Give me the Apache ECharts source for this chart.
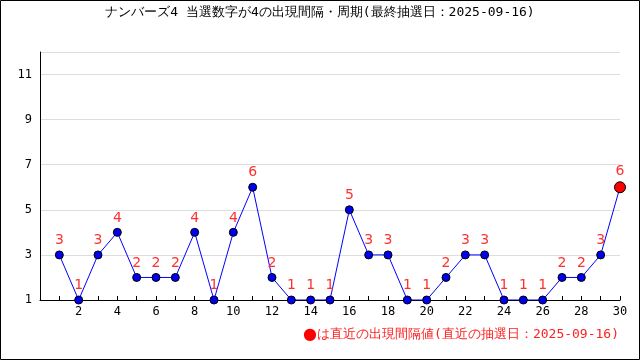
<!DOCTYPE html>
<html><head><meta charset="utf-8">
<script src="https://cdn.jsdelivr.net/npm/echarts@6/dist/echarts.min.js"></script>
<style>
html,body{margin:0;padding:0;background:#fff;}
#c{width:640px;height:360px;}
</style></head><body>
<div id="c"></div>
<script>
const titleText = 'ナンバーズ4 当選数字が4の出現間隔・周期(最終抽選日：2025-09-16)';
const noteText = 'は直近の出現間隔値(直近の抽選日：2025-09-16)';
const draws = [1,2,3,4,5,6,7,8,9,10,11,12,13,14,15,16,17,18,19,20,21,22,23,24,25,26,27,28,29,30];
const intervals = [3,1,3,4,2,2,2,4,1,4,6,2,1,1,1,5,3,3,1,1,2,3,3,1,1,1,2,2,3,6];

const chart = echarts.init(document.getElementById('c'));
const data = draws.map((d,i)=>{
  const last = i === draws.length-1;
  return {
    value:[d, intervals[i]],
    symbolSize: last ? 11 : 8,
    itemStyle: last ? {color:'#ff0000', borderColor:'#000', borderWidth:1} : undefined
  };
});
const font = '"DejaVu Sans Mono", monospace';
chart.setOption({
  animation:false,
  title:{text:titleText, left:'center', top:1,
    textStyle:{fontSize:13, fontWeight:'normal', color:'#000', fontFamily:font}},
  graphic:[
    {type:'rect', shape:{x:0.5, y:0.5, width:639, height:359}, style:{fill:null, stroke:'#000', lineWidth:1}},
    {type:'text', right:21, top:327, style:{text:'{d|●}' + noteText, fill:'#ff2020', font:'13px ' + font,
      rich:{d:{fontSize:16, fill:'#ff0000', fontFamily:'"DejaVu Sans", sans-serif'}}}}
  ],
  grid:{left:40, right:20, top:52, bottom:60},
  xAxis:{type:'value', min:0, max:30, interval:1,
    axisLine:{lineStyle:{color:'#000'}},
    axisTick:{inside:true, length:4, lineStyle:{color:'#000'}},
    splitLine:{show:false},
    axisLabel:{color:'#000', fontSize:12, fontFamily:font, margin:6,
      formatter:v => (v>0 && v%2===0) ? String(v) : ''}},
  yAxis:{type:'value', min:1, max:12, interval:2,
    axisLine:{show:true, lineStyle:{color:'#000'}},
    axisTick:{show:false},
    splitLine:{lineStyle:{color:'#dddddd'}},
    axisLabel:{color:'#000', fontSize:12, fontFamily:font, margin:8,
      formatter:v => v===12 ? '' : String(v)}},
  series:[{
    type:'line', data:data, symbol:'circle',
    lineStyle:{color:'#0000ff', width:1},
    itemStyle:{color:'#0000ee', borderColor:'#000', borderWidth:1},
    label:{show:true, position:'top', distance:3, color:'#ff3030', fontSize:14,
      fontFamily:'"DejaVu Sans", sans-serif', formatter:p=>p.value[1]}
  }]
});
</script>
</body></html>
